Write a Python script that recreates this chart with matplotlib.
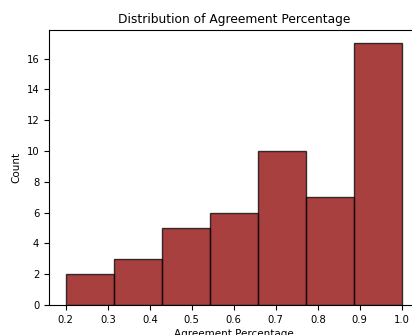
import numpy as np
import matplotlib as mpl
mpl.use('Agg')
import matplotlib.pyplot as plt

# histogram
bin_lo = 0.2
bin_hi = 1.0
counts = [2, 3, 5, 6, 10, 7, 17]

edges = np.linspace(bin_lo, bin_hi, len(counts) + 1)
centers = (edges[:-1] + edges[1:]) / 2

fig = plt.figure(figsize=(4.12, 3.35), dpi=100)
ax = fig.add_axes([49/412, 30/335, 369.6/412, 275/335])

ax.hist(centers, bins=edges, weights=counts, color='darkred', alpha=0.75,
        edgecolor='black', linewidth=1)

ax.set_xlim(0.16, 1.04)
ax.set_ylim(0, 17.85)
ax.set_title('Distribution of Agreement Percentage', fontsize=8.8, pad=5)
ax.set_xlabel('Agreement Percentage', fontsize=7.5, labelpad=3)
ax.set_ylabel('Count', fontsize=7.5)
ax.tick_params(axis='both', which='major', labelsize=7.2)

fig.savefig('out.png', dpi=100)
